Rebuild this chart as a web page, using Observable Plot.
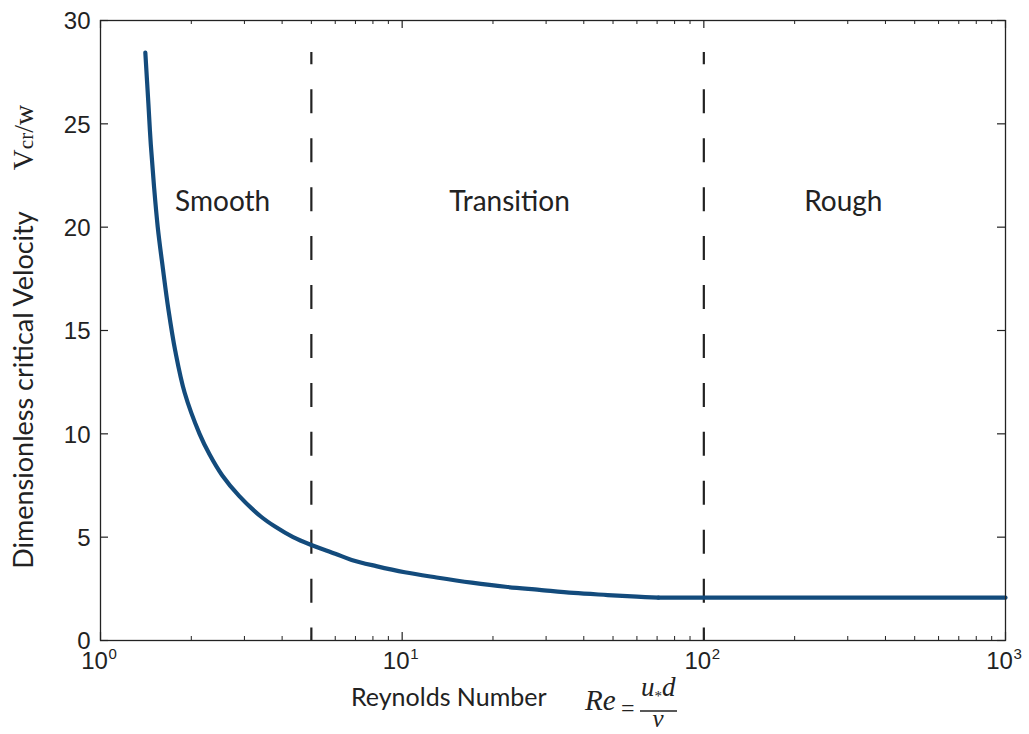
<!DOCTYPE html>
<html>
<head>
<meta charset="utf-8">
<script src="https://cdn.jsdelivr.net/npm/d3@7"></script>
<script src="https://cdn.jsdelivr.net/npm/@observablehq/plot@0.6"></script>
<style>
  html, body { margin: 0; padding: 0; background: #fff; }
  svg { display: block; }
</style>
</head>
<body>
<div id="chart"></div>
<script>
// ---- data ----
const reSmooth = [1.408, 1.441, 1.468, 1.504, 1.548, 1.61, 1.68, 1.77, 1.90, 2.13, 2.30, 2.53, 2.88, 3.40, 3.80, 4.35, 5.0, 6.0, 6.8, 8.2, 10.2, 13.0, 17.0, 22.0, 28.5, 37.0, 48.0, 60.0, 70.7];
const vSmooth  = [28.45, 26.0, 24.0, 22.0, 20.0, 18.0, 16.0, 14.0, 12.0, 10.0, 9.0, 8.0, 7.0, 6.0, 5.5, 5.0, 4.62, 4.2, 3.9, 3.6, 3.3, 3.05, 2.8, 2.6, 2.45, 2.3, 2.2, 2.12, 2.07];
const reRough = [70.7, 1000];
const vRough  = [2.07, 2.07];
const dividers = [5, 100];
const dividerTop = 28.45;
const regionNames = ["Smooth", "Transition", "Rough"];
const regionRe = [2.54, 22.7, 290];
const regionV = [21.2, 21.2, 21.2];
const yTicks = [0, 5, 10, 15, 20, 25, 30];
const xMajor = [1, 10, 100, 1000];
const xExponents = ["0", "1", "2", "3"];
const xMinor = [2,3,4,5,6,7,8,9,20,30,40,50,60,70,80,90,200,300,400,500,600,700,800,900];

const smooth = reSmooth.map((r, i) => ({re: r, v: vSmooth[i]}));
const rough = reRough.map((r, i) => ({re: r, v: vRough[i]}));
const regions = regionNames.map((n, i) => ({name: n, re: regionRe[i], v: regionV[i]}));
const xLabels = xMajor.map((d, i) => ({x: d, e: xExponents[i]}));

const W = 1029, H = 734;
const mL = 100, mR = 24, mT = 20, mB = 94;
const fw = W - mL - mR, fh = H - mT - mB;
const ink = "#222";
const blue = "#134b7c";
const sans = "Liberation Sans, Arial, sans-serif";
const label = "Lato, 'Open Sans', sans-serif";
const serif = "Liberation Serif, 'Times New Roman', serif";

const svg = Plot.plot({
  width: W, height: H,
  marginLeft: mL, marginRight: mR, marginTop: mT, marginBottom: mB,
  style: {background: "#fff", color: ink, fontFamily: sans},
  x: {type: "log", domain: [1, 1000], axis: null},
  y: {domain: [0, 30], axis: null},
  marks: [
    Plot.tickY(yTicks, {y: d => d, insetRight: fw - 8, stroke: ink, strokeWidth: 1.2}),
    Plot.tickY(yTicks, {y: d => d, insetLeft: fw - 8, stroke: ink, strokeWidth: 1.2}),
    Plot.tickX(xMajor, {x: d => d, insetTop: fh - 8, stroke: ink, strokeWidth: 1.2}),
    Plot.tickX(xMajor, {x: d => d, insetBottom: fh - 8, stroke: ink, strokeWidth: 1.2}),
    Plot.tickX(xMinor, {x: d => d, insetTop: fh - 4, stroke: ink, strokeWidth: 1}),
    Plot.tickX(xMinor, {x: d => d, insetBottom: fh - 4, stroke: ink, strokeWidth: 1}),
    Plot.ruleX(dividers, {x: d => d, y1: 0, y2: dividerTop, stroke: ink, strokeWidth: 2.2,
      strokeDasharray: "24 24.94", strokeDashoffset: 11.6}),
    Plot.line(smooth, {x: "re", y: "v", stroke: blue, strokeWidth: 4.2, curve: "catmull-rom"}),
    Plot.line(rough, {x: "re", y: "v", stroke: blue, strokeWidth: 4.2}),
    Plot.frame({stroke: ink, strokeWidth: 1.3}),
    Plot.text(regions, {x: "re", y: "v", text: "name", fontSize: 28, fontFamily: label, fill: ink}),
    Plot.text(yTicks, {y: d => d, text: d => String(d), frameAnchor: "left", textAnchor: "end",
      dx: -10, dy: 1, fontSize: 24, fill: ink}),
    Plot.text(xLabels, {x: "x", text: () => "10", frameAnchor: "bottom", textAnchor: "middle",
      dx: -6, dy: 28.5, fontSize: 24, fill: ink}),
    Plot.text(xLabels, {x: "x", text: "e", frameAnchor: "bottom", textAnchor: "start",
      dx: 8, dy: 18, fontSize: 15, fill: ink})
  ]
});

document.getElementById("chart").appendChild(svg);

// axis titles
const s = d3.select(svg);
const gy = s.append("g").attr("transform", "rotate(-90)").attr("fill", ink);
gy.append("text")
  .attr("x", -390).attr("y", 33)
  .attr("text-anchor", "middle")
  .attr("font-family", label).attr("font-size", 27)
  .text("Dimensionless critical Velocity");
const vt = gy.append("text")
  .attr("x", -137.5).attr("y", 33)
  .attr("text-anchor", "middle")
  .attr("font-family", serif);
vt.append("tspan").attr("font-size", 29).text("V");
vt.append("tspan").attr("font-size", 21).text("cr");
vt.append("tspan").attr("font-size", 28).text("/w");

const gx = s.append("g").attr("fill", ink);
gx.append("text").attr("x", 351).attr("y", 706).attr("text-anchor", "start")
  .attr("font-family", label).attr("font-size", 25).text("Reynolds Number");
gx.append("text").attr("x", 585).attr("y", 710).attr("text-anchor", "start")
  .attr("font-family", serif).attr("font-style", "italic").attr("font-size", 29).text("Re");
gx.append("text").attr("x", 621).attr("y", 716).attr("text-anchor", "start")
  .attr("font-family", serif).attr("font-size", 24).text("=");
const num = gx.append("text").attr("x", 641).attr("y", 696).attr("text-anchor", "start")
  .attr("font-family", serif).attr("font-style", "italic").attr("font-size", 27);
num.append("tspan").text("u");
num.append("tspan").attr("font-size", 15).attr("dy", 5).attr("font-style", "normal").text("*");
num.append("tspan").attr("dy", -5).text("d");
gx.append("line").attr("x1", 640).attr("x2", 677).attr("y1", 711).attr("y2", 711)
  .attr("stroke", ink).attr("stroke-width", 1.3);
gx.append("text").attr("x", 658).attr("y", 727).attr("text-anchor", "middle")
  .attr("font-family", serif).attr("font-style", "italic").attr("font-size", 25).text("v");
</script>
</body>
</html>
